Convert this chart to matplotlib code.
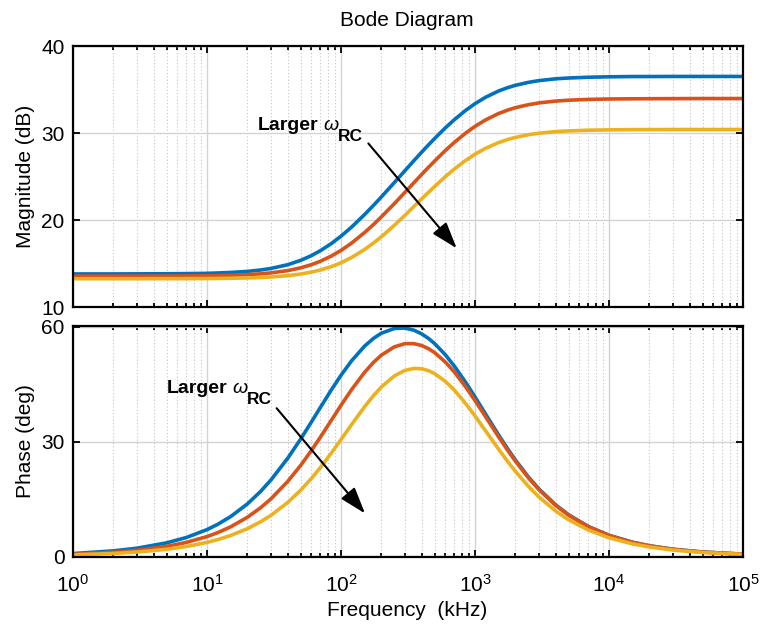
import numpy as np
import matplotlib
matplotlib.use('Agg')
import matplotlib.pyplot as plt
from matplotlib.ticker import LogLocator, FixedLocator
from matplotlib.transforms import offset_copy

plt.rcParams['font.family'] = ['Liberation Sans', 'DejaVu Sans']
plt.rcParams['mathtext.fontset'] = 'custom'
plt.rcParams['mathtext.rm'] = 'Liberation Sans'
plt.rcParams['mathtext.it'] = 'Liberation Sans:italic'
plt.rcParams['mathtext.bf'] = 'Liberation Sans:bold'

# ---------------- data ----------------
freq_khz = [1, 2, 3, 5, 7, 10, 12, 15, 20, 25, 30, 40, 50, 60, 70, 85, 100, 120,
            150, 175, 200, 250, 300, 350, 400, 450, 500, 600, 700, 850, 1000, 1200,
            1500, 1750, 2000, 2500, 3000, 4000, 5000, 7000, 10000, 15000, 20000,
            30000, 50000, 100000]

mag_blue = [13.80, 13.80, 13.81, 13.82, 13.84, 13.87, 13.91, 13.97, 14.09, 14.25,
            14.43, 14.86, 15.36, 15.90, 16.46, 17.31, 18.14, 19.19, 20.63, 21.69,
            22.65, 24.30, 25.67, 26.82, 27.80, 28.64, 29.37, 30.58, 31.52, 32.59,
            33.37, 34.11, 34.83, 35.21, 35.48, 35.82, 36.02, 36.23, 36.32, 36.41,
            36.46, 36.49, 36.49, 36.50, 36.50, 36.50]
mag_red = [13.55, 13.55, 13.55, 13.56, 13.57, 13.59, 13.61, 13.65, 13.72, 13.81,
           13.92, 14.18, 14.50, 14.86, 15.25, 15.87, 16.50, 17.35, 18.56, 19.49,
           20.36, 21.88, 23.18, 24.28, 25.24, 26.06, 26.78, 27.98, 28.91, 29.98,
           30.76, 31.51, 32.24, 32.63, 32.91, 33.25, 33.46, 33.67, 33.77, 33.86,
           33.91, 33.93, 33.94, 33.95, 33.96, 33.96]
mag_yellow = [13.25, 13.25, 13.25, 13.26, 13.26, 13.27, 13.28, 13.30, 13.34, 13.39,
              13.45, 13.60, 13.79, 14.01, 14.25, 14.65, 15.08, 15.69, 16.61, 17.36,
              18.07, 19.39, 20.54, 21.55, 22.43, 23.19, 23.86, 24.98, 25.85, 26.84,
              27.56, 28.24, 28.90, 29.25, 29.49, 29.80, 29.97, 30.16, 30.24, 30.32,
              30.36, 30.39, 30.39, 30.40, 30.40, 30.40]

phase_blue = [0.70, 1.40, 2.10, 3.50, 4.89, 6.96, 8.33, 10.36, 13.67, 16.87,
              19.93, 25.61, 30.64, 35.05, 38.85, 43.58, 47.32, 51.11, 54.94, 56.98,
              58.31, 59.55, 59.66, 59.10, 58.14, 56.94, 55.60, 52.70, 49.75, 45.51,
              41.65, 37.16, 31.71, 28.12, 25.19, 20.75, 17.59, 13.42, 10.83, 7.79,
              5.47, 3.66, 2.74, 1.83, 1.10, 0.55]
phase_red = [0.52, 1.03, 1.55, 2.58, 3.61, 5.14, 6.16, 7.68, 10.18, 12.62,
             15.00, 19.55, 23.75, 27.60, 31.08, 35.63, 39.46, 43.58, 48.09, 50.71,
             52.58, 54.75, 55.58, 55.59, 55.09, 54.26, 53.23, 50.80, 48.20, 44.33,
             40.72, 36.46, 31.21, 27.73, 24.87, 20.52, 17.41, 13.30, 10.73, 7.73,
             5.43, 3.63, 2.72, 1.82, 1.09, 0.55]
phase_yellow = [0.36, 0.73, 1.09, 1.81, 2.54, 3.62, 4.34, 5.42, 7.20, 8.96,
                10.69, 14.05, 17.27, 20.30, 23.15, 27.05, 30.50, 34.44, 39.10, 42.02,
                44.25, 47.14, 48.59, 49.11, 49.02, 48.52, 47.75, 45.75, 43.47, 39.97,
                36.68, 32.77, 27.99, 24.81, 22.22, 18.29, 15.49, 11.82, 9.53, 6.86,
                4.82, 3.22, 2.42, 1.61, 0.97, 0.48]

series_colors = ['#0072BD', '#D95319', '#EDB120']
mag_ticks = [10, 20, 30, 40]
phase_ticks = [0, 30, 60]

title_text = 'Bode Diagram'
mag_label = 'Magnitude (dB)'
phase_label = 'Phase (deg)'
x_label = 'Frequency  (kHz)'
annot_word = 'Larger'
annot_symbol = r'$\omega$'
annot_sub = 'RC'

# ---------------- figure ----------------
W, H = 761, 628
fig = plt.figure(figsize=(W / 100, H / 100), dpi=100)
ax1 = fig.add_axes([73 / W, 1 - 307 / H, 670 / W, 261 / H])
ax2 = fig.add_axes([73 / W, 1 - 557 / H, 670 / W, 231 / H])

FS = 15

for ax in (ax1, ax2):
    ax.set_xscale('log')
    ax.set_xlim(1, 1e5)
    ax.xaxis.set_major_locator(LogLocator(base=10, numticks=10))
    ax.xaxis.set_minor_locator(LogLocator(base=10, subs=np.arange(2, 10), numticks=100))
    ax.grid(True, which='major', color='#d4d4d4', lw=1.0, ls='-')
    ax.grid(True, which='minor', axis='x', color='#c4c4c4', lw=0.8, ls=(0, (1, 2)))
    ax.set_axisbelow(True)
    ax.tick_params(which='both', direction='in', top=True, right=True,
                   width=1.3, labelsize=FS, colors='black')
    ax.tick_params(which='major', length=5)
    ax.tick_params(which='minor', length=3)
    ax.tick_params(axis='x', which='major', pad=12)
    ax.tick_params(axis='y', which='major', pad=6)
    for s in ax.spines.values():
        s.set_linewidth(1.6)

mags = [mag_blue, mag_red, mag_yellow]
phases = [phase_blue, phase_red, phase_yellow]
for m, c in zip(mags, series_colors):
    ax1.plot(freq_khz, m, color=c, lw=2.6, solid_joinstyle='round')
for p, c in zip(phases, series_colors):
    ax2.plot(freq_khz, p, color=c, lw=2.6, solid_joinstyle='round')

ax1.set_ylim(10, 40)
ax1.yaxis.set_major_locator(FixedLocator(mag_ticks))
ax1.tick_params(labelbottom=False)
ax2.set_ylim(-0.2, 60.2)
ax2.yaxis.set_major_locator(FixedLocator(phase_ticks))

ax1.set_ylabel(mag_label, fontsize=FS)
ax2.set_ylabel(phase_label, fontsize=FS)
ax1.yaxis.set_label_coords((35 - 73) / 670, 0.5)
ax2.yaxis.set_label_coords((35 - 73) / 670, 0.5)

fig.text(407 / W, 1 - 20 / H, title_text, ha='center', va='center', fontsize=FS)
fig.text(407 / W, 1 - 616 / H, x_label, ha='center', va='baseline', fontsize=FS)


# annotations: "Larger ω" with a bold "RC" subscript
def label(ax, x, y):
    ax.text(x, y, annot_word, fontsize=14, fontweight='bold', va='baseline')
    t_sym = offset_copy(ax.transData, fig=fig, x=65, y=0, units='dots')
    ax.text(x, y, annot_symbol, fontsize=14, va='baseline', transform=t_sym)
    t_sub = offset_copy(ax.transData, fig=fig, x=80, y=-11, units='dots')
    ax.text(x, y, annot_sub, fontsize=12.5, fontweight='bold', va='baseline',
            transform=t_sub)


label(ax1, 24.1, 30.40)
label(ax2, 5.0, 42.6)

arrow_kw = dict(arrowstyle='-|>,head_length=0.9,head_width=0.3', color='black',
                lw=1.5, shrinkA=0, shrinkB=0, mutation_scale=18)
ax1.annotate('', xy=(730, 16.75), xytext=(160, 28.8), arrowprops=arrow_kw)
ax2.annotate('', xy=(151, 11.2), xytext=(33.1, 38.7), arrowprops=arrow_kw)

fig.savefig('out.png', dpi=100)
